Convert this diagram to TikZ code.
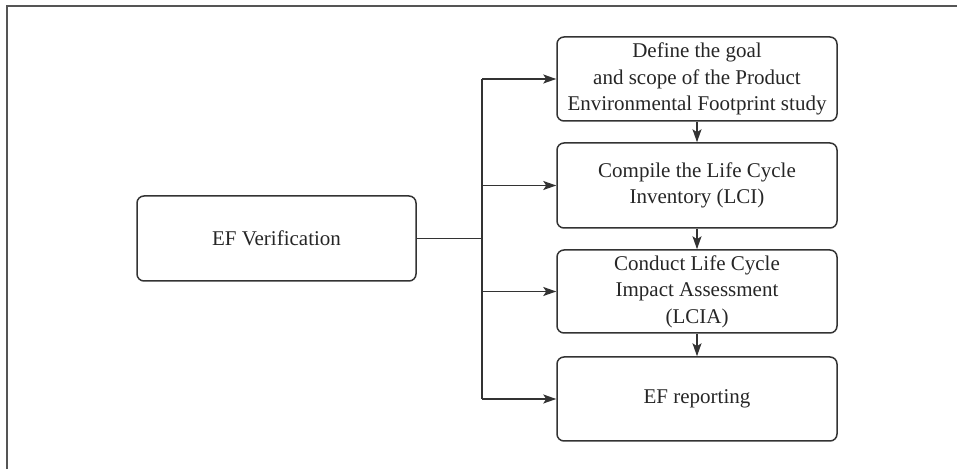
\documentclass[tikz,border=0pt]{standalone}
\usepackage{fontspec}
\setmainfont{Liberation Serif}
\usetikzlibrary{arrows.meta}
\definecolor{lc}{HTML}{333333}
\definecolor{fc}{HTML}{555555}
\begin{document}
\begin{tikzpicture}[x=1pt,y=1pt,
  box/.style={draw=lc,line width=1.5pt,rounded corners=7pt,minimum width=280pt,align=center,inner sep=0pt,
     font=\fontsize{21}{26.5}\selectfont,text=black!85},
  arr/.style={draw=lc,line width=1.5pt,-{Stealth[length=13pt,width=9pt,inset=3pt]}},
  ln/.style={draw=lc,line width=1.5pt}]
\useasboundingbox (0,0) rectangle (962,469);
\draw[fc,line width=2pt] (7,0) -- (7,463) -- (957,463);
\node[box,minimum width=279pt,minimum height=85pt] (ef) at (276.5,230.5) {EF Verification};
\node[box,minimum height=84pt] (b1) at (697,390) {Define the goal\\and scope of the Product\\Environmental Footprint study};
\node[box,minimum height=85pt] (b2) at (697,283.5) {Compile the Life Cycle\\Inventory (LCI)};
\node[box,minimum height=83pt] (b3) at (697,177.5) {Conduct Life Cycle\\Impact Assessment\\(LCIA)};
\node[box,minimum height=84pt] (b4) at (697,70) {EF reporting};
\coordinate (j) at (482,230.5);
\draw[ln] (ef.east) -- (j);
\draw[ln] (b1.west -| j) -- (b4.west -| j);
\foreach \b in {b1,b2,b3,b4}{\draw[arr] (\b.west -| j) -- (\b.west);}
\draw[arr] (b1.south) -- (b2.north);
\draw[arr] (b2.south) -- (b3.north);
\draw[arr] (b3.south) -- (b4.north);
\end{tikzpicture}
\end{document}
